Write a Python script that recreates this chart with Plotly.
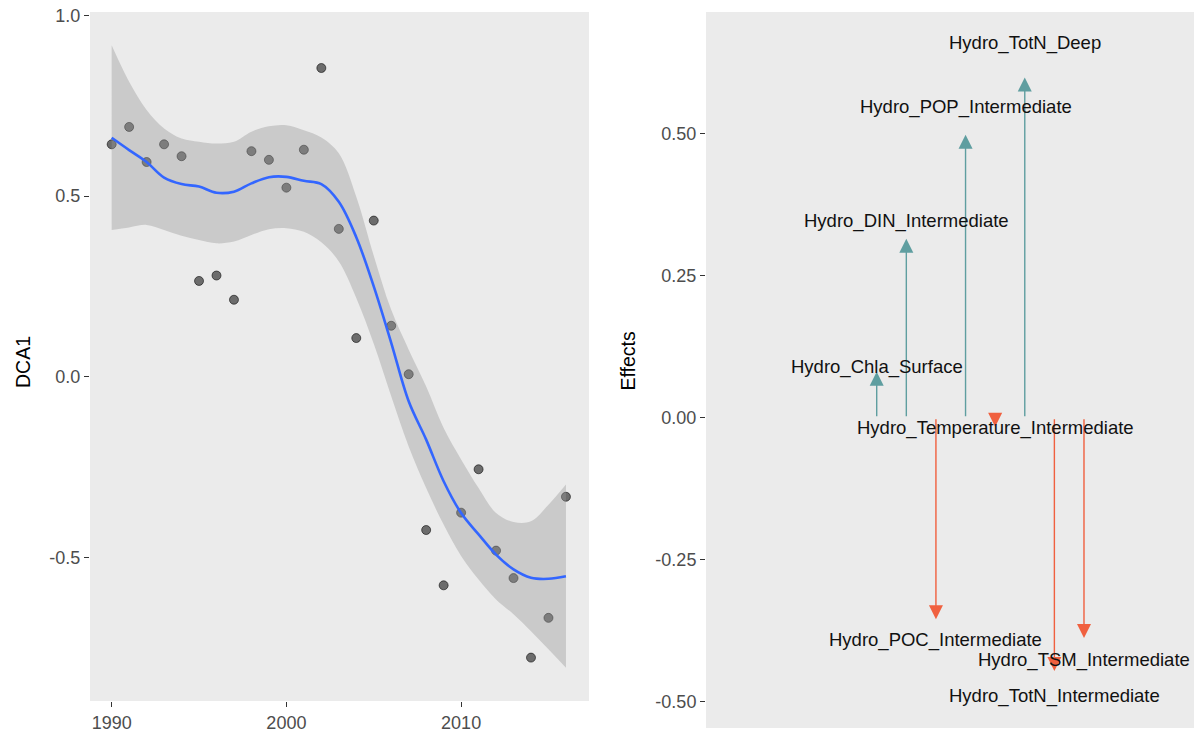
import plotly.graph_objects as go

# ---------------- data (left panel) ----------------
years = [1990, 1991, 1992, 1993, 1994, 1995, 1996, 1997, 1998, 1999, 2000, 2001, 2002,
         2003, 2004, 2005, 2006, 2007, 2008, 2009, 2010, 2011, 2012, 2013, 2014, 2015, 2016]
dca1 = [0.643, 0.691, 0.594, 0.643, 0.610, 0.265, 0.280, 0.213, 0.624, 0.600, 0.523, 0.628, 0.854,
        0.409, 0.107, 0.432, 0.141, 0.007, -0.424, -0.577, -0.376, -0.256, -0.481, -0.557, -0.777,
        -0.667, -0.332]
smooth_fit = [0.661, 0.627, 0.594, 0.551, 0.533, 0.526, 0.509, 0.512, 0.535, 0.552, 0.553, 0.542, 0.533,
              0.484, 0.386, 0.250, 0.094, -0.068, -0.174, -0.289, -0.377, -0.436, -0.492, -0.533,
              -0.556, -0.559, -0.552]
smooth_upper = [0.917, 0.816, 0.738, 0.687, 0.659, 0.650, 0.645, 0.650, 0.678, 0.693, 0.696, 0.682, 0.662,
                0.618, 0.498, 0.335, 0.185, 0.075, -0.027, -0.142, -0.229, -0.308, -0.377, -0.402,
                -0.400, -0.354, -0.298]
smooth_lower = [0.406, 0.413, 0.420, 0.406, 0.390, 0.378, 0.369, 0.374, 0.392, 0.408, 0.411, 0.401, 0.372,
                0.319, 0.218, 0.091, -0.054, -0.193, -0.308, -0.409, -0.496, -0.561, -0.616, -0.657,
                -0.704, -0.754, -0.805]
left_xticks = [1990, 2000, 2010]
left_yticks = [-0.5, 0.0, 0.5, 1.0]
left_yticklabels = ["-0.5", "0.0", "0.5", "1.0"]

# ---------------- data (right panel) ----------------
variables = ["Hydro_Chla_Surface", "Hydro_DIN_Intermediate", "Hydro_POC_Intermediate",
             "Hydro_POP_Intermediate", "Hydro_Temperature_Intermediate", "Hydro_TotN_Deep",
             "Hydro_TotN_Intermediate", "Hydro_TSM_Intermediate"]
effects = [0.081, 0.315, -0.355, 0.498, -0.016, 0.599, -0.446, -0.388]
right_yticks = [-0.5, -0.25, 0.0, 0.25, 0.5]
right_yticklabels = ["-0.50", "-0.25", "0.00", "0.25", "0.50"]

FONT = "Liberation Sans, Arial, sans-serif"
POS_COL = "#5F9EA0"
NEG_COL = "#F0603F"
W, H = 1198, 737

fig = go.Figure()

# points (drawn first, the smoother ribbon covers them)
fig.add_trace(go.Scatter(x=years, y=dca1, mode="markers",
                         marker=dict(size=9, color="rgba(30,30,30,0.62)",
                                     line=dict(width=1, color="rgba(0,0,0,0.55)")),
                         xaxis="x", yaxis="y", showlegend=False, hoverinfo="skip"))
# confidence band
fig.add_trace(go.Scatter(x=years, y=smooth_lower, mode="lines",
                         line=dict(width=0, shape="spline"), xaxis="x", yaxis="y",
                         showlegend=False, hoverinfo="skip"))
fig.add_trace(go.Scatter(x=years, y=smooth_upper, mode="lines",
                         line=dict(width=0, shape="spline"), fill="tonexty",
                         fillcolor="rgba(153,153,153,0.4)", xaxis="x", yaxis="y",
                         showlegend=False, hoverinfo="skip"))
# smooth line
fig.add_trace(go.Scatter(x=years, y=smooth_fit, mode="lines",
                         line=dict(width=2.6, color="#3366FF", shape="spline"),
                         xaxis="x", yaxis="y", showlegend=False, hoverinfo="skip"))

# invisible trace to activate second subplot
idx = list(range(1, len(variables) + 1))
fig.add_trace(go.Scatter(x=idx, y=effects, mode="markers", marker=dict(opacity=0),
                         xaxis="x2", yaxis="y2", showlegend=False, hoverinfo="skip"))

annotations = []
for i, (v, e) in enumerate(zip(variables, effects), start=1):
    col = POS_COL if e > 0 else NEG_COL
    annotations.append(dict(x=i, y=e, ax=i, ay=0, xref="x2", yref="y2", axref="x2", ayref="y2",
                            text="", showarrow=True, arrowhead=2, arrowsize=2.0, arrowwidth=1.4,
                            arrowcolor=col, standoff=0, startstandoff=0))
for i, (v, e) in enumerate(zip(variables, effects), start=1):
    annotations.append(dict(x=i, y=e * 1.1, xref="x2", yref="y2", text=v, showarrow=False,
                            font=dict(family=FONT, size=18.5, color="#111111"),
                            xanchor="center", yanchor="middle"))

# axis titles
annotations.append(dict(x=23 / W, y=(H - 362) / H, xref="paper", yref="paper", text="DCA1",
                        showarrow=False, textangle=-90,
                        font=dict(family=FONT, size=19.5, color="#000000"),
                        xanchor="center", yanchor="middle"))
annotations.append(dict(x=627.5 / W, y=(H - 361) / H, xref="paper", yref="paper", text="Effects",
                        showarrow=False, textangle=-90,
                        font=dict(family=FONT, size=19.5, color="#000000"),
                        xanchor="center", yanchor="middle"))

tickfont = dict(family=FONT, size=18, color="#4D4D4D")
common = dict(showgrid=False, zeroline=False, showline=False, ticks="outside", ticklen=5,
              tickwidth=1, tickcolor="#333333", tickfont=tickfont, automargin=False)

fig.update_layout(
    width=W, height=H,
    margin=dict(l=0, r=0, t=0, b=0),
    paper_bgcolor="white",
    plot_bgcolor="#EBEBEB",
    font=dict(family=FONT),
    showlegend=False,
    annotations=annotations,
    xaxis=dict(domain=[90 / W, 589 / W], range=[1988.76, 2017.32], tickmode="array",
               tickvals=left_xticks, ticktext=[str(t) for t in left_xticks], anchor="y", **common),
    yaxis=dict(domain=[(H - 701) / H, (H - 12) / H], range=[-0.897, 1.009], tickmode="array",
               tickvals=left_yticks, ticktext=left_yticklabels, anchor="x", **common),
    xaxis2=dict(domain=[706 / W, 1194 / W], range=[-4.765, 11.715], showticklabels=False,
                showgrid=False, zeroline=False, showline=False, ticks="", anchor="y2"),
    yaxis2=dict(domain=[(H - 728) / H, (H - 12) / H], range=[-0.5463, 0.7143], tickmode="array",
                tickvals=right_yticks, ticktext=right_yticklabels, anchor="x2", **common),
)

fig.write_html("out.html", config={"displayModeBar": False},
               post_script="document.body.style.margin='0';document.body.style.overflow='hidden';")
